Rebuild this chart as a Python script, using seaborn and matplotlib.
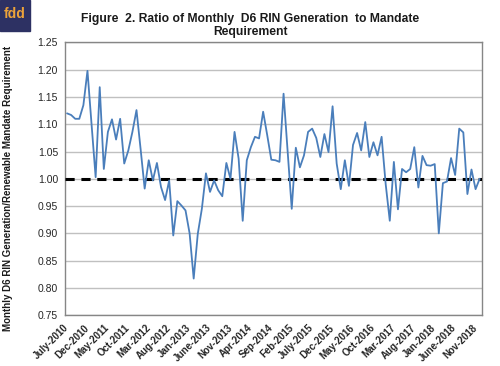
import numpy as np
import pandas as pd
import seaborn as sns
import matplotlib.pyplot as plt
from matplotlib.patches import Rectangle

# monthly ratio, July 2010 .. December 2018
ratio = [1.120, 1.117, 1.110, 1.110, 1.135, 1.198, 1.100, 1.003, 1.168, 1.018,
         1.086, 1.109, 1.072, 1.110, 1.028, 1.052, 1.086, 1.126, 1.055, 0.982,
         1.034, 0.997, 1.029, 0.985, 0.961, 0.997, 0.896, 0.959, 0.951, 0.942,
         0.900, 0.817, 0.899, 0.945, 1.010, 0.976, 0.997, 0.979, 0.968, 1.029,
         1.000, 1.086, 1.037, 0.923, 1.034, 1.058, 1.077, 1.074, 1.123, 1.080,
         1.035, 1.034, 1.031, 1.156, 1.050, 0.945, 1.057, 1.021, 1.043, 1.086,
         1.092, 1.075, 1.040, 1.082, 1.049, 1.133, 1.028, 0.981, 1.034, 0.987,
         1.062, 1.084, 1.052, 1.104, 1.040, 1.067, 1.043, 1.077, 0.990, 0.923,
         1.031, 0.944, 1.018, 1.012, 1.018, 1.058, 0.984, 1.042, 1.025, 1.024,
         1.027, 0.900, 0.992, 0.995, 1.038, 1.007, 1.092, 1.085, 0.972, 1.017,
         0.981, 1.000]

tick_labels = ["July-2010", "Dec-2010", "May-2011", "Oct-2011", "Mar-2012",
               "Aug-2012", "Jan-2013", "June-2013", "Nov-2013", "Apr-2014",
               "Sep-2014", "Feb-2015", "July-2015", "Dec-2015", "May-2016",
               "Oct-2016", "Mar-2017", "Aug-2017", "Jan-2018", "June-2018",
               "Nov-2018"]
label_step = 5
mandate = 1.0
y_ticks = [0.75, 0.80, 0.85, 0.90, 0.95, 1.00, 1.05, 1.10, 1.15, 1.20, 1.25]

title = "Figure  2. Ratio of Monthly  D6 RIN Generation  to Mandate\nRequirement"
ylabel = "Monthly D6 RIN Generation/Renewable Mandate Requirement"


def setup_dataframe():
    months = pd.period_range("2010-07", periods=len(ratio), freq="M")
    df = pd.DataFrame({"month": months.astype(str),
                       "pos": np.arange(len(ratio)),
                       "ratio": ratio})
    return df


def plot_dataframe(df, figure_path):
    sns.set_style("white")
    plt.rcParams["font.family"] = ["Liberation Sans", "DejaVu Sans"]

    fig = plt.figure(figsize=(5, 3.66), dpi=100)
    ax = fig.add_axes([0.13, 0.139, 0.8334, 0.745])

    ax.yaxis.grid(True, color="#c0c0c0", lw=1.0)
    ax.set_axisbelow(True)

    ax.axhline(mandate, color="black", lw=2.2, dashes=(3, 2.2), zorder=3)
    sns.lineplot(data=df, x="pos", y="ratio", color="#4a7ebb", lw=1.3, ax=ax, zorder=4)

    n = len(df)
    ax.set_xlim(-0.5, n - 0.5)
    ax.set_ylim(0.75, 1.25)
    ax.set_yticks(y_ticks)
    ax.set_yticklabels([f"{v:.2f}" for v in y_ticks], fontsize=7.5, color="#262626")

    # labels every 5 months, small tick marks between every category
    ax.set_xticks(np.arange(0, n, label_step)[:len(tick_labels)])
    ax.set_xticklabels(tick_labels, rotation=45, ha="right", va="center",
                       rotation_mode="anchor", fontsize=7, fontweight="bold",
                       color="#262626")
    ax.set_xticks(np.arange(-0.5, n, 1), minor=True)
    ax.tick_params(axis="x", which="major", length=0, pad=8)
    ax.tick_params(axis="x", which="minor", length=3, width=0.6, color="#868686", direction="out")
    ax.tick_params(axis="y", length=3, width=0.8, color="#868686", direction="out", pad=2)

    for side in ["top", "right", "left", "bottom"]:
        ax.spines[side].set_color("#868686")
        ax.spines[side].set_linewidth(1.0)

    ax.set_xlabel("")
    ax.set_ylabel("")
    fig.text(0.016, 0.484, ylabel, rotation=90, ha="center", va="center",
             fontsize=7, fontweight="bold", color="#1a1a1a")
    fig.text(0.5, 0.965, title, ha="center", va="top", fontsize=8.7,
             fontweight="bold", color="#1a1a1a", linespacing=1.15)

    # fdd badge in the top-left corner
    fig.add_artist(Rectangle((0, 1 - 31 / 366), 30 / 500, 31 / 366,
                             transform=fig.transFigure, color="#2d3163", zorder=5))
    fig.text(15 / 500, 1 - 14 / 366, "fdd", ha="center", va="center", fontsize=10,
             fontweight="bold", color="#eda33a", zorder=6)

    fig.savefig(figure_path, dpi=100)


def main():
    df = setup_dataframe()
    plot_dataframe(df, "out.png")


if __name__ == "__main__":
    main()
